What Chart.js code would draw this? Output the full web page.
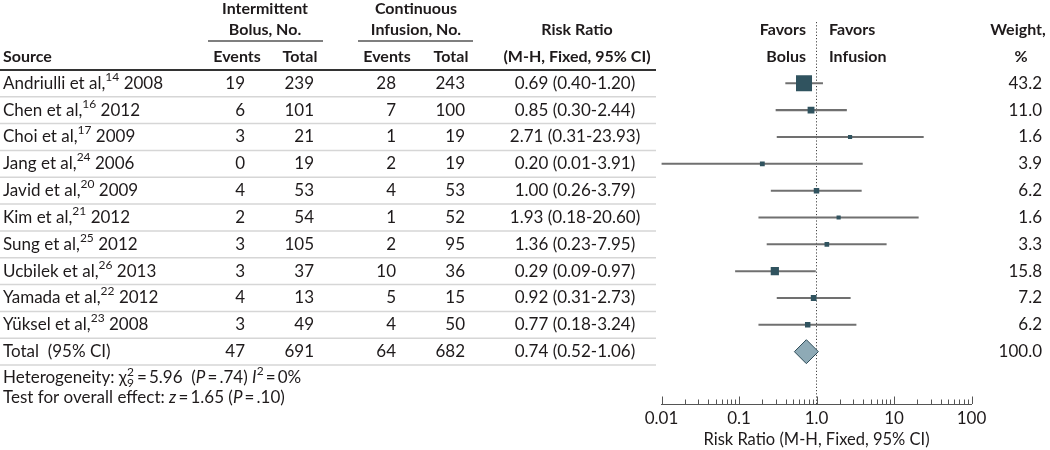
<!DOCTYPE html>
<html><head><meta charset="utf-8">
<script src="https://cdn.jsdelivr.net/npm/chart.js@4.4.1/dist/chart.umd.min.js"></script>
<style>html,body{margin:0;padding:0;background:#fff;} #wrap{position:relative;width:1050px;height:450px;}</style>
</head><body><div id="wrap"><canvas id="c"></canvas></div>
<script>
// ---------------- data ----------------
const studyNames = ["Andriulli et al,", "Chen et al,", "Choi et al,", "Jang et al,", "Javid et al,", "Kim et al,", "Sung et al,", "Ucbilek et al,", "Yamada et al,", "Yüksel et al,"];
const studyRefs = ["14", "16", "17", "24", "20", "21", "25", "26", "22", "23"];
const studyYears = ["2008", "2012", "2009", "2006", "2009", "2012", "2012", "2013", "2012", "2008"];
const bolusEvents = [19, 6, 3, 0, 4, 2, 3, 3, 4, 3];
const bolusTotal = [239, 101, 21, 19, 53, 54, 105, 37, 13, 49];
const infusionEvents = [28, 7, 1, 2, 4, 1, 2, 10, 5, 4];
const infusionTotal = [243, 100, 19, 19, 53, 52, 95, 36, 15, 50];
const riskRatio = [0.69, 0.85, 2.71, 0.20, 1.00, 1.93, 1.36, 0.29, 0.92, 0.77];
const ciLow = [0.40, 0.30, 0.31, 0.01, 0.26, 0.18, 0.23, 0.09, 0.31, 0.18];
const ciHigh = [1.20, 2.44, 23.93, 3.91, 3.79, 20.60, 7.95, 0.97, 2.73, 3.24];
const weights = [43.2, 11.0, 1.6, 3.9, 6.2, 1.6, 3.3, 15.8, 7.2, 6.2];
const totalLabel = "Total  (95% CI)";
const totalCounts = [47, 691, 64, 682];
const totalRR = [0.74];
const totalLow = [0.52];
const totalHigh = [1.06];
const totalWeight = ["100.0"];
const axisTicks = [0.01, 0.1, 1, 10, 100];
const axisTickLabels = ["0.01", "0.1", "1.0", "10", "100"];
const axisTitle = "Risk Ratio (M-H, Fixed, 95% CI)";

// ---------------- styling helpers ----------------
const FONT = 'Lato, "Noto Sans", sans-serif';
const TXT = '#1e1a1b';
const FS = 17;
const HFS = 16;

function segFont(s, size, weight) {
  const st = s.f === 'i' ? 'italic ' : '';
  const small = (s.f === 'sup' || s.f === 'sub' || s.f === 'stack');
  const sz = small ? Math.round(size * 0.68) : size;
  return st + weight + ' ' + sz + 'px ' + FONT;
}
function segWidth(ctx, s, size, weight) {
  ctx.font = segFont(s, size, weight);
  if (s.f === 'stack') return Math.max(ctx.measureText(s.sup).width, ctx.measureText(s.sub).width) + 1;
  return ctx.measureText(s.t).width;
}
function drawRich(ctx, x, y, segs, align, size, weight) {
  size = size || FS; weight = weight || 'normal';
  ctx.save();
  ctx.textBaseline = 'middle'; ctx.textAlign = 'left'; ctx.fillStyle = TXT;
  const ws = segs.map(s => segWidth(ctx, s, size, weight));
  const tot = ws.reduce((a, b) => a + b, 0);
  let cx = align === 'right' ? x - tot : (align === 'center' ? x - tot / 2 : x);
  segs.forEach((s, k) => {
    ctx.font = segFont(s, size, weight);
    if (s.f === 'sup') ctx.fillText(s.t, cx, y - size * 0.38);
    else if (s.f === 'sub') ctx.fillText(s.t, cx, y + size * 0.3);
    else if (s.f === 'stack') { ctx.fillText(s.sup, cx, y - size * 0.36); ctx.fillText(s.sub, cx, y + size * 0.3); }
    else ctx.fillText(s.t, cx, y);
    cx += ws[k];
  });
  ctx.restore();
}
function txt(ctx, s, x, y, align) { drawRich(ctx, x, y, [{t: String(s), f: 'n'}], align, FS, 'normal'); }
function htxt(ctx, s, x, y, align) { drawRich(ctx, x, y, [{t: String(s), f: 'n'}], align, HFS, 'bold'); }
function hline(ctx, x1, x2, y, color, w) {
  ctx.save(); ctx.strokeStyle = color; ctx.lineWidth = w;
  ctx.beginPath(); ctx.moveTo(x1, y); ctx.lineTo(x2, y); ctx.stroke(); ctx.restore();
}
function fmtCI(v, l, h) { return v.toFixed(2) + ' (' + l.toFixed(2) + '-' + h.toFixed(2) + ')'; }

// column layout
const COL = {src: 3, be: 245, bt: 314, ie: 396, it: 465, rr: 575, w: 1042, tableEnd: 656};

const tablePlugin = {
  id: 'table',
  beforeDatasetsDraw(chart) {
    const ctx = chart.ctx, ys = chart.scales.y, xs = chart.scales.x;
    const nRows = studyNames.length + 1;
    // row separators
    for (let i = 0; i < nRows; i++) hline(ctx, 0, COL.tableEnd, ys.getPixelForValue(i + 0.5), '#d6d6d6', 1.5);
    // header rule
    hline(ctx, 0, COL.tableEnd, ys.getPixelForValue(-0.5), '#333333', 2);
    hline(ctx, 208, 323, 41, '#555555', 1.5);
    hline(ctx, 358, 473, 41, '#555555', 1.5);
    // headers
    htxt(ctx, 'Intermittent', 265, 9, 'center');
    htxt(ctx, 'Bolus, No.', 265, 30, 'center');
    htxt(ctx, 'Continuous', 416, 9, 'center');
    htxt(ctx, 'Infusion, No.', 416, 30, 'center');
    htxt(ctx, 'Source', COL.src, 57, 'left');
    htxt(ctx, 'Events', 237, 57, 'center');
    htxt(ctx, 'Total', 300, 57, 'center');
    htxt(ctx, 'Events', 387, 57, 'center');
    htxt(ctx, 'Total', 451, 57, 'center');
    htxt(ctx, 'Risk Ratio', 577, 30, 'center');
    htxt(ctx, '(M-H, Fixed, 95% CI)', 577, 57, 'center');
    htxt(ctx, 'Favors', 806, 30, 'right');
    htxt(ctx, 'Bolus', 806, 57, 'right');
    htxt(ctx, 'Favors', 829, 30, 'left');
    htxt(ctx, 'Infusion', 829, 57, 'left');
    htxt(ctx, 'Weight,', 1018, 30, 'center');
    htxt(ctx, '%', 1021, 57, 'center');
    // study rows
    studyNames.forEach((n, i) => {
      const y = ys.getPixelForValue(i);
      drawRich(ctx, COL.src, y, [{t: n, f: 'n'}, {t: studyRefs[i], f: 'sup'}, {t: ' ' + studyYears[i], f: 'n'}], 'left');
      txt(ctx, bolusEvents[i], COL.be, y, 'right');
      txt(ctx, bolusTotal[i], COL.bt, y, 'right');
      txt(ctx, infusionEvents[i], COL.ie, y, 'right');
      txt(ctx, infusionTotal[i], COL.it, y, 'right');
      txt(ctx, fmtCI(riskRatio[i], ciLow[i], ciHigh[i]), COL.rr, y, 'center');
      txt(ctx, weights[i].toFixed(1), COL.w, y, 'right');
    });
    // total row
    const yt = ys.getPixelForValue(studyNames.length);
    txt(ctx, totalLabel, COL.src, yt, 'left');
    txt(ctx, totalCounts[0], COL.be, yt, 'right');
    txt(ctx, totalCounts[1], COL.bt, yt, 'right');
    txt(ctx, totalCounts[2], COL.ie, yt, 'right');
    txt(ctx, totalCounts[3], COL.it, yt, 'right');
    txt(ctx, fmtCI(totalRR[0], totalLow[0], totalHigh[0]), COL.rr, yt, 'center');
    txt(ctx, totalWeight[0], COL.w, yt, 'right');
    // footnotes
    drawRich(ctx, COL.src, 378, [
      {t: 'Heterogeneity: \u03c7', f: 'n'}, {f: 'stack', sup: '2', sub: '9'},
      {t: '\u2009=\u20095.96  (', f: 'n'}, {t: 'P', f: 'i'}, {t: '\u2009=\u2009.74) ', f: 'n'},
      {t: 'I', f: 'i'}, {t: '2', f: 'sup'}, {t: '\u2009=\u20090%', f: 'n'}], 'left');
    drawRich(ctx, COL.src, 398, [
      {t: 'Test for overall effect: ', f: 'n'}, {t: 'z', f: 'i'}, {t: '\u2009=\u20091.65 (', f: 'n'},
      {t: 'P', f: 'i'}, {t: '\u2009=\u2009.10)', f: 'n'}], 'left');
    // line of no effect (dotted)
    const x1 = xs.getPixelForValue(1);
    ctx.save(); ctx.strokeStyle = '#444'; ctx.lineWidth = 1; ctx.setLineDash([1.2, 2]);
    ctx.beginPath(); ctx.moveTo(x1, 22); ctx.lineTo(x1, chart.chartArea.bottom); ctx.stroke(); ctx.restore();
  },
  afterDatasetsDraw(chart) {
    const ctx = chart.ctx, xs = chart.scales.x, b = chart.chartArea.bottom;
    ctx.save(); ctx.strokeStyle = '#555'; ctx.lineWidth = 1;
    xs.ticks.forEach(t => {
      const major = axisTicks.some(a => Math.abs(a - t.value) / a < 1e-6);
      const x = Math.round(xs.getPixelForValue(t.value)) + 0.5;
      ctx.beginPath(); ctx.moveTo(x, b); ctx.lineTo(x, b - (major ? 7.5 : 4.5)); ctx.stroke();
    });
    ctx.restore();
  }
};

const tickValues = [];
for (let e = -2; e <= 1; e++) for (let m = 1; m <= 9; m++) tickValues.push(Number((m * Math.pow(10, e)).toPrecision(3)));
tickValues.push(100);

const boxSide = w => 3.7 + 0.285 * w;

new Chart(document.getElementById('c'), {
  type: 'scatter',
  data: {
    datasets: [
      {
        type: 'bar', indexAxis: 'y', label: 'CI',
        data: ciLow.map((l, i) => ({y: i, x: [l, ciHigh[i]]})),
        backgroundColor: '#707070', borderWidth: 0, barThickness: 1.4, grouped: false, order: 3
      },
      {
        type: 'scatter', label: 'RR',
        data: riskRatio.map((v, i) => ({x: v, y: i})),
        pointStyle: 'rect', backgroundColor: '#30535f', borderColor: '#30535f', borderWidth: 0,
        pointRadius: c => boxSide(weights[c.dataIndex]) / Math.SQRT2, order: 1
      },
      {
        type: 'scatter', label: 'Total',
        data: totalRR.map((v, i) => ({x: v, y: studyNames.length + i})),
        pointStyle: 'rectRot', backgroundColor: '#8eaab6', borderColor: '#2e4c58', borderWidth: 1,
        pointRadius: c => {
          const xs = c.chart.scales.x;
          if (!xs) return 12;
          return (xs.getPixelForValue(totalHigh[c.dataIndex]) - xs.getPixelForValue(totalLow[c.dataIndex])) / 2;
        }, order: 0
      }
    ]
  },
  options: {
    responsive: true, maintainAspectRatio: false, animation: false,
    layout: {padding: {left: 661.5, right: 78.5, top: 69.9, bottom: 0}, autoPadding: false},
    plugins: {legend: {display: false}, tooltip: {enabled: false}},
    scales: {
      x: {
        type: 'logarithmic', min: 0.01, max: 100, position: 'bottom', offset: false,
        afterBuildTicks: s => { s.ticks = tickValues.map(v => ({value: v})); },
        afterFit: s => { s.height = 46; },
        grid: {display: false, drawTicks: false, offset: false},
        border: {display: true, color: '#555', width: 1},
        ticks: {
          autoSkip: false, maxRotation: 0, minRotation: 0, padding: 4.5, color: TXT,
          font: {family: FONT, size: FS},
          callback: v => { const k = axisTicks.findIndex(a => Math.abs(a - v) / a < 1e-6); return k >= 0 ? axisTickLabels[k] : ''; }
        },
        title: {display: true, text: axisTitle, color: TXT, font: {family: FONT, size: 16.5}, padding: {top: 0, bottom: 0}}
      },
      y: {type: 'linear', reverse: true, min: -0.5, max: 11.95, display: false, offset: false, grid: {offset: false}}
    }
  },
  plugins: [tablePlugin]
});
</script>
</body></html>
